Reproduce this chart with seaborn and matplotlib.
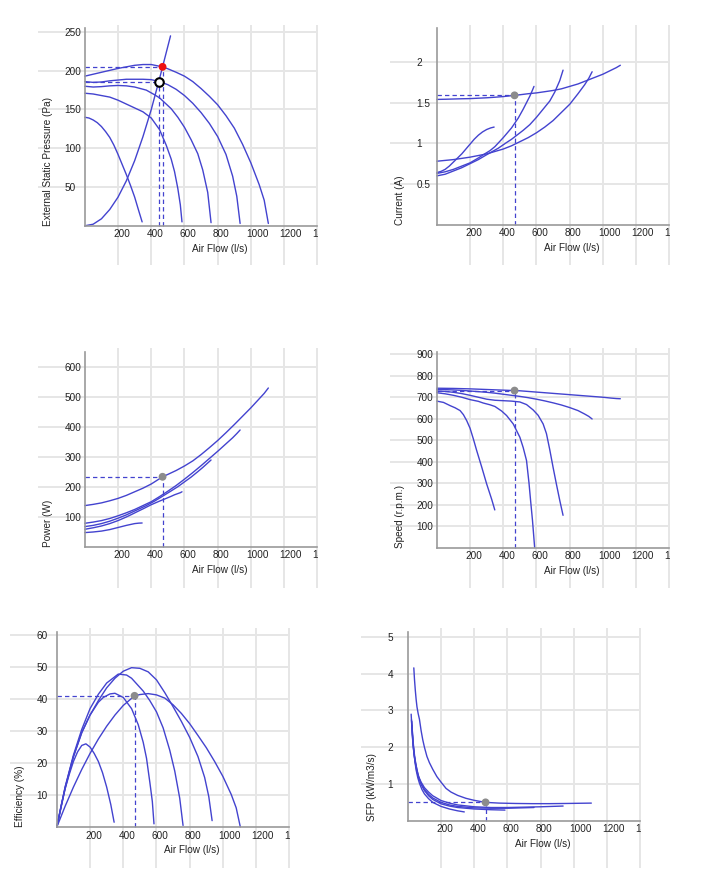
import matplotlib
matplotlib.use("Agg")
import matplotlib.pyplot as plt
from matplotlib.ticker import FixedLocator
from matplotlib.transforms import ScaledTranslation
import numpy as np
import seaborn as sns

sns.set_style("white")
plt.rcParams["font.family"] = ["Liberation Sans", "DejaVu Sans"]

# Débits des 5 courbes de vitesse (l/s)
flow_a = [0, 50, 100, 150, 200, 250, 300, 350, 400, 468, 500, 550, 600, 650, 700, 750,
          800, 850, 900, 950, 1000, 1050, 1080, 1105]
flow_b = [0, 50, 100, 150, 200, 250, 300, 350, 400, 450, 500, 550, 600, 650, 700, 750,
          800, 850, 890, 915, 935]
flow_c = [0, 50, 100, 150, 200, 250, 300, 370, 420, 450, 520, 560, 600, 640, 680, 710, 740, 760]
flow_d = [0, 50, 100, 150, 200, 250, 280, 320, 350, 400, 450, 490, 520, 540, 560, 575, 585]
flow_e = [0, 25, 50, 75, 100, 125, 150, 175, 200, 225, 250, 275, 300, 325, 345]

# Pression statique externe (Pa)
pres_a = [193, 195.5, 198, 200.5, 203, 205, 207, 208, 208, 205, 202.5, 198, 193, 186, 177, 167,
          156, 142, 126, 105, 81, 53, 33, 3]
pres_b = [186, 185, 185.5, 187, 188, 189, 189, 189, 188.5, 186, 182, 176, 168, 158, 146, 132,
          115, 92, 64, 38, 3]
pres_c = [180, 179, 179.5, 180.5, 181, 180.5, 179, 175, 169, 165, 151, 140, 127, 111, 93, 72, 43, 4]
pres_d = [171, 170, 168, 166, 162, 157, 154, 150, 147, 139, 124, 104, 86, 70, 48, 27, 5]
pres_e = [140, 139, 136.5, 133, 128, 121.5, 114, 104, 92, 79, 66, 52, 37, 19, 5]

# Courbe du réseau
system_flow = [0, 50, 100, 150, 200, 250, 300, 350, 400, 450, 516]
system_pres = [0, 2, 9, 21, 37, 58, 84, 115, 150, 190, 245]

# Courant (A)
cur_a = [1.54, 1.542, 1.545, 1.548, 1.55, 1.555, 1.56, 1.567, 1.575, 1.59, 1.597, 1.61, 1.62,
         1.635, 1.65, 1.67, 1.70, 1.73, 1.77, 1.81, 1.85, 1.90, 1.93, 1.96]
cur_b = [0.78, 0.79, 0.80, 0.815, 0.83, 0.85, 0.87, 0.90, 0.93, 0.97, 1.02, 1.07, 1.13, 1.20,
         1.28, 1.38, 1.48, 1.61, 1.72, 1.80, 1.88]
cur_c = [0.60, 0.62, 0.66, 0.70, 0.75, 0.80, 0.86, 0.94, 1.01, 1.05, 1.16, 1.23, 1.32, 1.42,
         1.52, 1.63, 1.77, 1.90]
cur_d = [0.63, 0.65, 0.68, 0.72, 0.76, 0.82, 0.86, 0.91, 0.96, 1.07, 1.19, 1.31, 1.42, 1.50,
         1.58, 1.65, 1.70]
cur_e = [0.64, 0.655, 0.68, 0.72, 0.77, 0.82, 0.87, 0.93, 0.99, 1.05, 1.10, 1.14, 1.17, 1.19, 1.20]

# Puissance (W)
pow_a = [138, 142, 147, 154, 162, 172, 184, 196, 210, 234, 242, 255, 270, 287, 308, 331, 355,
         381, 408, 436, 464, 494, 512, 530]
pow_b = [79, 83, 88, 95, 104, 114, 125, 138, 151, 168, 186, 205, 226, 248, 271, 295, 319, 344,
         364, 378, 390]
pow_c = [68, 72, 78, 86, 96, 107, 120, 138, 153, 163, 187, 201, 217, 233, 251, 265, 280, 290]
pow_d = [59, 64, 70, 78, 88, 100, 108, 119, 127, 141, 153, 162, 169, 174, 178, 181, 184]
pow_e = [48, 49, 50, 51.5, 53, 55.5, 58, 61.5, 65, 68.5, 72, 75, 78, 79.5, 80]

# Vitesse (tr/min)
speed_a = [741, 740.5, 740, 739, 738, 736.5, 735, 733.5, 732, 730, 729, 726, 723, 720, 717, 714,
           711, 708, 705, 702, 699, 695, 693, 692]
speed_b = [735, 734.5, 733, 731, 728, 725, 722, 718, 713, 708, 703, 697, 690, 682, 673, 663,
           651, 637, 621, 610, 598]
speed_flow_c = [0, 50, 100, 150, 200, 250, 300, 350, 400, 450, 500, 540, 580, 610, 640, 660,
                680, 700, 720, 740, 760]
speed_c = [728, 726, 722, 716, 708, 699, 690, 685, 683, 681, 677, 665, 640, 615, 575, 530,
           455, 373, 295, 220, 150]
speed_flow_d = [0, 50, 100, 150, 200, 250, 280, 320, 350, 390, 420, 460, 500, 520, 540, 555,
                565, 576, 589]
speed_d = [720, 715, 708, 699, 688, 680, 672, 664, 656, 635, 614, 575, 513, 465, 405, 300,
           215, 126, 0]
speed_flow_e = [0, 40, 80, 110, 140, 160, 180, 200, 220, 240, 270, 300, 330, 349]
speed_e = [681, 675, 660, 650, 637, 618, 590, 555, 505, 451, 375, 296, 225, 175]

# Rendement (%)
eff_a = [0, 6.5, 12.5, 18, 23, 27.5, 31.5, 35, 38, 41, 41.4, 41.7, 41.3, 40.3, 38.2, 35.5,
         32.3, 28.6, 24.8, 20.5, 15.8, 10.2, 6, 0]
eff_b = [0, 12, 22, 29.5, 35, 39.5, 43.5, 46.5, 48.7, 49.8, 49.6, 48.5, 46, 42, 37.6, 33, 28,
         22, 15.5, 9.5, 2]
eff_c = [0, 12.5, 22.5, 30.5, 37, 41.5, 45, 47.8, 47.5, 46.5, 42.5, 39.5, 36, 31, 24, 17.5, 9, 0.5]
eff_d = [0, 12.5, 22, 29.5, 35, 39, 40.5, 41.6, 41.8, 40.5, 37, 32, 26.5, 21.5, 14, 8, 1]
eff_e = [0, 6.5, 12, 16.5, 20.5, 23.5, 25.5, 26, 25, 23, 20.5, 17, 12.5, 7, 1.5]

# SFP (kW/m3/s)
sfp_flow_a = [36, 40, 45, 50, 55, 62, 70, 80, 90, 100, 115, 130, 150, 175, 200, 230, 260, 300,
              350, 400, 468, 550, 650, 750, 850, 950, 1105]
sfp_a = [4.16, 3.85, 3.55, 3.3, 3.1, 2.92, 2.76, 2.45, 2.2, 2.0, 1.75, 1.58, 1.4, 1.2, 1.05,
         0.88, 0.78, 0.69, 0.61, 0.555, 0.50, 0.48, 0.47, 0.465, 0.465, 0.47, 0.48]
sfp_flow_b = [20, 23, 27, 32, 38, 45, 55, 65, 80, 100, 125, 150, 200, 250, 300, 400, 500, 600,
              700, 800, 935]
sfp_b = [2.9, 2.65, 2.35, 2.05, 1.8, 1.6, 1.38, 1.2, 1.05, 0.9, 0.78, 0.68, 0.55, 0.48, 0.43,
         0.38, 0.36, 0.36, 0.37, 0.38, 0.40]
sfp_flow_c = [22, 25, 29, 34, 40, 47, 55, 65, 80, 100, 125, 150, 200, 250, 300, 400, 500, 600, 760]
sfp_c = [2.75, 2.5, 2.2, 1.95, 1.72, 1.52, 1.33, 1.17, 1.0, 0.85, 0.72, 0.62, 0.5, 0.43, 0.39,
         0.35, 0.34, 0.34, 0.36]
sfp_flow_d = [24, 27, 31, 36, 42, 50, 60, 70, 85, 100, 125, 150, 200, 250, 300, 400, 500, 585]
sfp_d = [2.7, 2.45, 2.2, 1.95, 1.72, 1.5, 1.28, 1.13, 0.95, 0.82, 0.68, 0.58, 0.46, 0.40, 0.36,
         0.32, 0.30, 0.29]
sfp_flow_e = [25, 28, 32, 37, 43, 50, 60, 70, 85, 100, 125, 150, 200, 250, 300, 340]
sfp_e = [2.6, 2.35, 2.1, 1.85, 1.6, 1.38, 1.17, 1.02, 0.85, 0.73, 0.6, 0.5, 0.39, 0.32, 0.27, 0.24]

# Point de fonctionnement
op_flow = 468
op_pres = 205
duty_flow = 448
duty_pres = 185
op_current = 1.59
op_power = 234
op_speed = 730
op_eff = 41
op_sfp = 0.5

x_ticks = [200, 400, 600, 800, 1000, 1200, 1400]

BLUE = "#4343cf"
GRID = "#e6e6e6"
W, H = 712, 884

fig = plt.figure(figsize=(W / 100, H / 100), dpi=100)
# les étiquettes de l'axe x sont calées à gauche, 5 px avant la grille
x_shift = ScaledTranslation(-5 / 100, 0, fig.dpi_scale_trans)


def panel(left, top, ylim, ytop, yticks, ylabels, ystep, ylabel, lab_x=-222):
    ax = fig.add_axes([left / W, 1 - (top + 240) / H, 280 / W, 240 / H])
    ax.set_xlim(-282, 1404)
    ax.set_ylim(*ylim)
    ax.set_xticks(x_ticks, labels=[str(v) for v in x_ticks])
    ax.set_yticks(yticks, labels=ylabels)
    ax.xaxis.set_minor_locator(FixedLocator([v for v in range(50, 1400, 50) if v % 200]))
    ax.yaxis.set_minor_locator(FixedLocator(np.arange(ystep, ytop, ystep)))
    ax.grid(True, which="major", color=GRID, lw=1.4)
    ax.set_axisbelow(True)
    for s in ["top", "right"]:
        ax.spines[s].set_visible(False)
    for s in ["left", "bottom"]:
        ax.spines[s].set_position(("data", 0))
        ax.spines[s].set_color("#9a9a9a")
        ax.spines[s].set_linewidth(1.2)
        ax.spines[s].set_zorder(3)
    ax.spines["left"].set_bounds(0, ytop)
    ax.spines["bottom"].set_bounds(0, 1400)
    ax.tick_params(which="both", direction="in", length=4, width=0.8, color="#c8c8c8",
                   labelsize=7.2, labelcolor="#222222")
    ax.tick_params(axis="x", pad=2.5)
    ax.tick_params(axis="y", pad=14.5)
    for lab in ax.get_yticklabels():
        lab.set_horizontalalignment("left")
    for lab in ax.get_xticklabels():
        lab.set_horizontalalignment("left")
        lab.set_transform(lab.get_transform() + x_shift)
        lab.set_clip_on(True)
        lab.set_clip_box(ax.bbox)
    ax.annotate("Air Flow (l/s)", xy=(813, 0), xytext=(0, -23), textcoords="offset pixels",
                ha="center", va="center", fontsize=7.2, color="#222222")
    ax.text(lab_x, 0, ylabel, rotation=90, rotation_mode="anchor", ha="left", va="center",
            fontsize=7.2, color="#222222")
    return ax


def curves(ax, pairs):
    for q, v in pairs:
        sns.lineplot(x=q, y=v, ax=ax, color=BLUE, lw=1.0, sort=False, estimator=None, zorder=2)


def guides(ax, x, y):
    ax.plot([0, x], [y, y], color=BLUE, lw=0.9, dashes=(3.5, 2.5), zorder=2)
    ax.plot([x, x], [0, y], color=BLUE, lw=0.9, dashes=(3.5, 2.5), zorder=2)


def op_dot(ax, x, y, color="#8c8c8c"):
    sns.scatterplot(x=[x], y=[y], ax=ax, color=color, s=32, edgecolor="none", zorder=5)


# 1 - pression
ax1 = panel(38, 25, (-50.6, 259), 255, [50, 100, 150, 200, 250],
            ["50", "100", "150", "200", "250"], 10, "External Static Pressure (Pa)")
curves(ax1, [(flow_a, pres_a), (flow_b, pres_b), (flow_c, pres_c), (flow_d, pres_d),
             (flow_e, pres_e), (system_flow, system_pres)])
guides(ax1, op_flow, op_pres)
guides(ax1, duty_flow, duty_pres)
op_dot(ax1, op_flow, op_pres, "#ee1111")
sns.scatterplot(x=[duty_flow], y=[duty_pres], ax=ax1, s=38, color="white",
                edgecolor="black", linewidth=1.5, zorder=5)

# 2 - courant
ax2 = panel(390, 25, (-0.496, 2.455), 2.42, [0.5, 1, 1.5, 2], ["0.5", "1", "1.5", "2"],
            0.1, "Current (A)")
curves(ax2, [(flow_a, cur_a), (flow_b, cur_b), (flow_c, cur_c), (flow_d, cur_d), (flow_e, cur_e)])
guides(ax2, op_flow, op_current)
op_dot(ax2, op_flow, op_current)

# 3 - puissance
ax3 = panel(38, 348, (-136.7, 663.3), 650, [100, 200, 300, 400, 500, 600],
            ["100", "200", "300", "400", "500", "600"], 20, "Power (W)")
curves(ax3, [(flow_a, pow_a), (flow_b, pow_b), (flow_c, pow_c), (flow_d, pow_d), (flow_e, pow_e)])
guides(ax3, op_flow, op_power)
op_dot(ax3, op_flow, op_power)

# 4 - vitesse
ax4 = panel(390, 348, (-188, 928), 908, list(range(100, 1000, 100)),
            [str(v) for v in range(100, 1000, 100)], 25, "Speed (r.p.m.)")
curves(ax4, [(flow_a, speed_a), (flow_b, speed_b), (speed_flow_c, speed_c),
             (speed_flow_d, speed_d), (speed_flow_e, speed_e)])
guides(ax4, op_flow, op_speed)
op_dot(ax4, op_flow, op_speed)

# 5 - rendement
ax5 = panel(10, 628, (-12.8, 62.2), 60.9, [10, 20, 30, 40, 50, 60],
            ["10", "20", "30", "40", "50", "60"], 2, "Efficiency (%)")
curves(ax5, [(flow_a, eff_a), (flow_b, eff_b), (flow_c, eff_c), (flow_d, eff_d), (flow_e, eff_e)])
guides(ax5, op_flow, op_eff)
op_dot(ax5, op_flow, op_eff)

# 6 - SFP
ax6 = panel(361, 628, (-1.286, 5.245), 5.14, [1, 2, 3, 4, 5], ["1", "2", "3", "4", "5"],
            0.2, "SFP (kW/m3/s)", lab_x=-213)
curves(ax6, [(sfp_flow_a, sfp_a), (sfp_flow_b, sfp_b), (sfp_flow_c, sfp_c),
             (sfp_flow_d, sfp_d), (sfp_flow_e, sfp_e)])
guides(ax6, op_flow, op_sfp)
op_dot(ax6, op_flow, op_sfp)

fig.savefig("out.png", dpi=100, facecolor="white")
